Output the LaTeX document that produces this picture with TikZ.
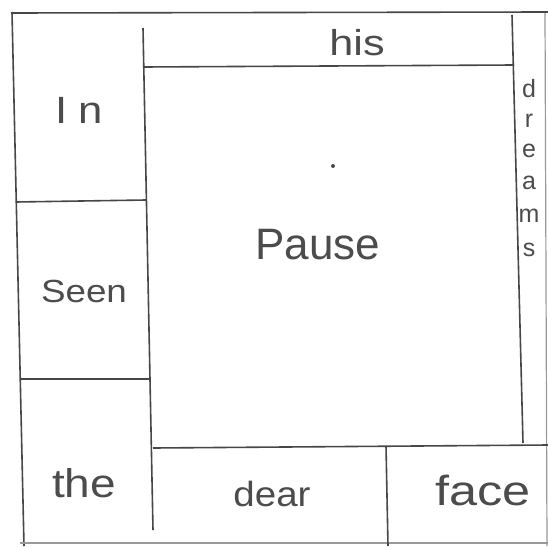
\documentclass[tikz,border=0pt]{standalone}
\usepackage{fontspec}
\setmainfont{Liberation Sans}
\newcommand{\wide}[2]{\scalebox{#1}[1]{#2}}
\begin{document}
\begin{tikzpicture}[x=1pt,y=-1pt,
  rule/.style={draw=black!72,line width=1.6pt},
  faint/.style={draw=black!40,line width=1.2pt},
  word/.style={text=black!70,inner sep=0pt,anchor=center},
  letter/.style={text=black!70,inner sep=0pt,anchor=center,font=\fontsize{25}{25}\selectfont}]
\useasboundingbox (0,0) rectangle (548,546);
\fill[white] (0,0) rectangle (548,546);
% outer frame
\draw[rule] (11,13) -- (548,12);
\draw[rule] (12,12) -- (24,546);
\draw[faint] (545,13) -- (547,546);
\draw[faint] (20,543) -- (548,543);
% left column
\draw[rule] (143,28) -- (153,530);
\draw[rule] (16,202) -- (146,200);
\draw[rule] (20,379) -- (149,379);
% top strip
\draw[rule] (143,67) -- (514,65);
% right strip
\draw[rule] (512,15) -- (523,443);
% bottom strip
\draw[rule] (153,448) -- (548,445);
\draw[rule] (386,446) -- (388,546);
% words
\node[word,font=\fontsize{36}{36}\selectfont] (his) at (357,43) {\wide{1.2}{his}};
\node[word,font=\fontsize{38}{38}\selectfont] (in) at (79,110) {\wide{1.15}{I\hspace{9pt}n}};
\node[word,font=\fontsize{32}{32}\selectfont] (seen) at (84,291) {\wide{1.15}{Seen}};
\node[word,font=\fontsize{40}{40}\selectfont] (the) at (84,483) {\wide{1.15}{the}};
\node[word,font=\fontsize{35}{35}\selectfont] (dear) at (272,494) {\wide{1.1}{dear}};
\node[word,font=\fontsize{42}{42}\selectfont] (face) at (483,491) {\wide{1.2}{face}};
\node[word,font=\fontsize{44}{44}\selectfont] (pause) at (318,245) {\wide{1.0}{Pause}};
\fill[black!70] (333,166) circle (2pt);
\node[letter] (d1) at (529,89) {d};
\node[letter] (d2) at (529,121) {r};
\node[letter] (d3) at (529,151) {e};
\node[letter] (d4) at (529,183) {a};
\node[letter] (d5) at (529,216) {m};
\node[letter] (d6) at (529,250) {s};
\end{tikzpicture}
\end{document}
